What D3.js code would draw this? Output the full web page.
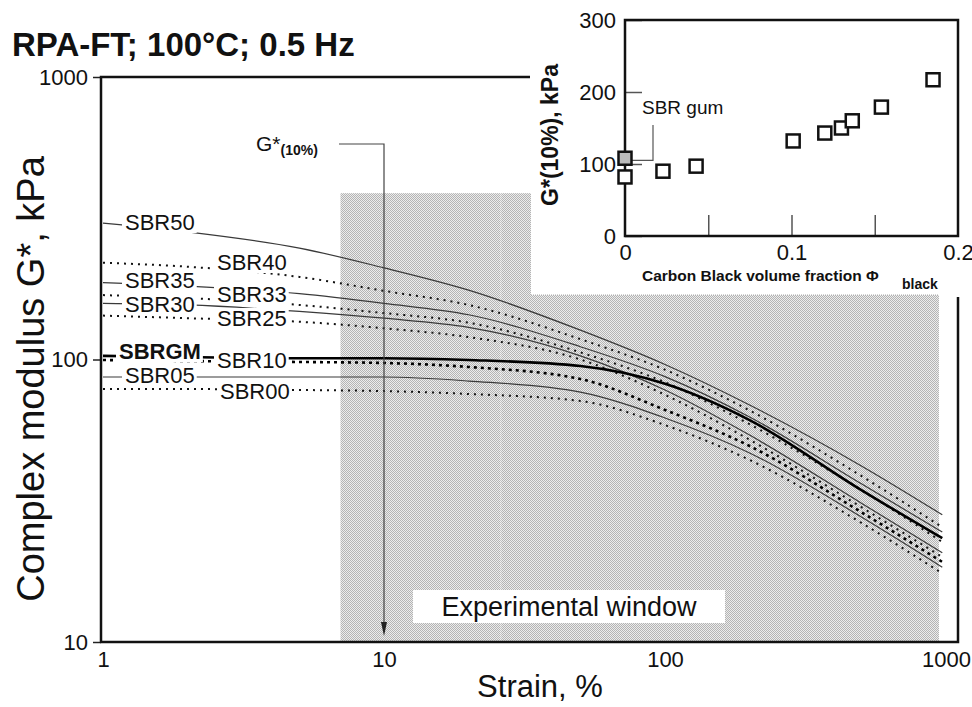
<!DOCTYPE html>
<html>
<head>
<meta charset="utf-8">
<script src="https://cdn.jsdelivr.net/npm/d3@7"></script>
<style>
  body { margin: 0; background: #fff; }
  text { font-family: "Liberation Sans", Arial, sans-serif; fill: #111; }
</style>
</head>
<body>
<svg id="chart" width="972" height="707"></svg>
<script>
// strain sweep, % (x values shared by every curve)
var strain = [1, 2, 5, 10, 20, 50, 100, 200, 500, 970];

// complex modulus G*, kPa
var SBR50 = [304, 283, 248, 211, 176, 127, 96, 69, 42, 28.2];
var SBR40 = [220, 213, 196, 175, 156, 118, 92, 66, 38.7, 25.5];
var SBR35 = [187, 182, 171, 158, 144, 111, 87, 62.6, 36.3, 24.5];
var SBR33 = [169, 165, 156, 146, 135, 106, 83, 59, 34.5, 22.6];
var SBR30 = [158, 156, 148, 140, 130, 103, 78, 54, 31, 20.7];
var SBR25 = [143, 140, 136, 129, 120, 100, 75, 52, 30, 20];
var SBRGM = [103, 102, 101, 101, 99.6, 94.8, 82, 61, 34.5, 23.3];
var SBR10 = [99.6, 98.8, 98, 97.2, 94.1, 85.3, 66.3, 49.4, 28.8, 19.2];
var SBR05 = [86.7, 86.7, 86.7, 86.7, 83.9, 76.7, 62.1, 46.7, 27.7, 18.4];
var SBR00 = [78.6, 78.6, 78, 77.3, 75.5, 71.3, 58.6, 44.1, 26.4, 17.5];

var seriesNames = ["SBR50", "SBR40", "SBR35", "SBR33", "SBR30", "SBR25", "SBRGM", "SBR10", "SBR05", "SBR00"];
var seriesValues = [SBR50, SBR40, SBR35, SBR33, SBR30, SBR25, SBRGM, SBR10, SBR05, SBR00];

// inset: G*(10%) vs carbon black volume fraction
var insetNames = ["SBR00", "SBRGM", "SBR05", "SBR10", "SBR25", "SBR30", "SBR33", "SBR35", "SBR40", "SBR50"];
var phiBlack = [0, 0, 0.0228, 0.0427, 0.101, 0.120, 0.130, 0.1365, 0.154, 0.185];
var gStar10 = [82, 108, 90, 97, 132, 143, 150, 160, 179, 217];

var xTicks = [1, 10, 100, 1000];
var yTicks = [10, 100, 1000];
var insetXTicks = [0, 0.1, 0.2];
var insetYTicks = [0, 100, 200, 300];

// experimental window (strain range, top G*)
var windowStrain = [7, 944];
var windowTop = 388;

// ---- styles / layout ----
var lineStyle = {
  solid:  { stroke: "#3a3a3a", width: 1.2, dash: null },
  dotted: { stroke: "#111", width: 2, dash: "2,5" },
  bold:   { stroke: "#000", width: 2.6, dash: null },
  bolddot:{ stroke: "#000", width: 2.6, dash: "3,4" }
};
var seriesStyle = {
  SBR50: "solid", SBR40: "dotted", SBR35: "solid", SBR33: "dotted", SBR30: "solid",
  SBR25: "dotted", SBRGM: "bold", SBR10: "bolddot", SBR05: "solid", SBR00: "dotted"
};
var labelPos = {
  SBR50: [125, 222], SBR35: [125, 280], SBR30: [125, 304], SBRGM: [119, 351], SBR05: [125, 375],
  SBR40: [217, 262], SBR33: [217, 294], SBR25: [217, 318], SBR10: [217, 360], SBR00: [220, 391]
};

var svg = d3.select("#chart");

var x = d3.scaleLog().domain([1, 1000]).range([103, 946]);
var y = d3.scaleLog().domain([10, 1000]).range([642, 77]);

// stipple pattern for the window
var defs = svg.append("defs");
var pat = defs.append("pattern").attr("id", "stip")
    .attr("width", 2).attr("height", 2).attr("patternUnits", "userSpaceOnUse");
pat.append("rect").attr("width", 2).attr("height", 2).attr("fill", "#ececec");
pat.append("rect").attr("width", 1).attr("height", 1).attr("fill", "#b4b4b4");
pat.append("rect").attr("x", 1).attr("y", 1).attr("width", 1).attr("height", 1).attr("fill", "#b4b4b4");

svg.append("rect")
    .attr("x", x(windowStrain[0]))
    .attr("y", y(windowTop))
    .attr("width", x(windowStrain[1]) - x(windowStrain[0]))
    .attr("height", y(10) - y(windowTop))
    .attr("fill", "url(#stip)");

// faint light dotted line inside the window
svg.append("line")
    .attr("x1", x(26)).attr("x2", x(26))
    .attr("y1", y(windowTop)).attr("y2", y(10))
    .attr("stroke", "#f4f4f4").attr("stroke-width", 1.2).attr("stroke-dasharray", "1,1");

// curves
var line = d3.line()
    .x(function(d) { return x(d[0]); })
    .y(function(d) { return y(d[1]); })
    .curve(d3.curveMonotoneX);

var curves = svg.append("g");
seriesNames.forEach(function(name, i) {
  var st = lineStyle[seriesStyle[name]];
  var pts = strain.map(function(s, j) { return [s, seriesValues[i][j]]; });
  curves.append("path")
      .attr("d", line(pts))
      .attr("fill", "none")
      .attr("stroke", st.stroke)
      .attr("stroke-width", st.width)
      .attr("stroke-dasharray", st.dash);
});

// G*(10%) arrow
svg.append("path")
    .attr("d", "M339,144H" + x(10) + "V628")
    .attr("fill", "none").attr("stroke", "#444").attr("stroke-width", 1.2);
svg.append("path")
    .attr("d", "M" + (x(10) - 3) + ",622L" + (x(10) + 3) + ",622L" + x(10) + ",636Z")
    .attr("fill", "#222");
var gl = svg.append("text").attr("x", 256).attr("y", 151).style("font-size", "21px");
gl.append("tspan").text("G*");
gl.append("tspan").attr("dy", 4).style("font-size", "14px").style("font-weight", "bold").text("(10%)");

// series labels with white backing
var labels = svg.append("g");
seriesNames.forEach(function(name) {
  var p = labelPos[name];
  var t = labels.append("text")
      .attr("x", p[0]).attr("y", p[1]).attr("dy", "0.36em")
      .style("font-size", "22px")
      .style("font-weight", name === "SBRGM" ? "bold" : "normal")
      .text(name);
  var b = t.node().getBBox();
  labels.insert("rect", function() { return t.node(); })
      .attr("x", b.x - 3).attr("y", p[1] - 10)
      .attr("width", b.width + 5).attr("height", 21)
      .attr("fill", "#fff");
});

// "Experimental window" box
svg.append("rect").attr("x", 413).attr("y", 590).attr("width", 312).attr("height", 33).attr("fill", "#fff");
svg.append("text").attr("x", 569).attr("y", 616).attr("text-anchor", "middle")
    .style("font-size", "27px").text("Experimental window");

// axes
var yAxis = d3.axisLeft(y).tickValues(yTicks).tickFormat(d3.format("d"))
    .tickSize(8).tickSizeOuter(0).tickPadding(5);
var gy = svg.append("g").attr("transform", "translate(101,0)").call(yAxis);
gy.select(".domain").remove();
gy.selectAll("text").style("font-size", "22px").attr("fill", "#111");
gy.selectAll("line").attr("stroke", "#222").attr("stroke-width", 1.5);

var xAxis = d3.axisBottom(x).tickValues(xTicks).tickFormat(d3.format("d"))
    .tickSize(0).tickPadding(9);
var gx = svg.append("g").attr("transform", "translate(0,642)").call(xAxis);
gx.select(".domain").remove();
gx.selectAll("text").style("font-size", "22px").attr("fill", "#111");

// frame
var frame = svg.append("g").attr("stroke", "#111").attr("fill", "none");
frame.append("path").attr("d", "M530,77H101V643").attr("stroke-width", 2.5);
frame.append("path").attr("d", "M100,642H958V297").attr("stroke-width", 2.5);

// axis titles
svg.append("text").attr("x", 12).attr("y", 56)
    .style("font-size", "33px").style("font-weight", "bold")
    .text("RPA-FT; 100°C; 0.5 Hz");
svg.append("text").attr("transform", "translate(44,379) rotate(-90)")
    .attr("text-anchor", "middle").style("font-size", "38px")
    .text("Complex modulus G*, kPa");
svg.append("text").attr("x", 540).attr("y", 697).attr("text-anchor", "middle")
    .style("font-size", "31px").text("Strain, %");

// ---- inset ----
svg.append("rect").attr("x", 531).attr("y", 0).attr("width", 441).attr("height", 295).attr("fill", "#fff");
svg.append("line").attr("x1", 531).attr("x2", x(windowStrain[1])).attr("y1", 295).attr("y2", 295)
    .attr("stroke", "#aaa").attr("stroke-dasharray", "1,1");

var ix = d3.scaleLinear().domain([0, 0.2]).range([625, 958]);
var iy = d3.scaleLinear().domain([0, 300]).range([236, 20]);
var inset = svg.append("g");

var iyAxis = d3.axisLeft(iy).tickValues(insetYTicks).tickFormat(d3.format("d"))
    .tickSize(-17).tickSizeOuter(0).tickPadding(9);
var giy = inset.append("g").attr("transform", "translate(625,0)").call(iyAxis);
giy.select(".domain").remove();
giy.selectAll("text").style("font-size", "22px").attr("fill", "#111");
giy.selectAll("line").attr("stroke", "#555").attr("stroke-width", 1.5);

var ixTickAxis = d3.axisBottom(ix).tickValues([0.05, 0.1, 0.15]).tickFormat("").tickSize(-21).tickSizeOuter(0);
var gixt = inset.append("g").attr("transform", "translate(0,236)").call(ixTickAxis);
gixt.select(".domain").remove();
gixt.selectAll("line").attr("stroke", "#555").attr("stroke-width", 1.5);

var ixAxis = d3.axisBottom(ix).tickValues(insetXTicks)
    .tickFormat(function(d) { return d === 0 ? "0" : d3.format(".1f")(d); })
    .tickSize(0).tickPadding(8);
var gix = inset.append("g").attr("transform", "translate(0,236)").call(ixAxis);
gix.select(".domain").remove();
gix.selectAll("text").style("font-size", "22px").attr("fill", "#111");

inset.append("rect").attr("x", 625).attr("y", 20).attr("width", 333).attr("height", 216)
    .attr("fill", "none").attr("stroke", "#111").attr("stroke-width", 2.5);

// SBR gum leader
inset.append("path").attr("d", "M632," + iy(105) + "H653V125")
    .attr("fill", "none").attr("stroke", "#555").attr("stroke-width", 1.2);
inset.append("text").attr("x", 642).attr("y", 114).style("font-size", "19px").text("SBR gum");

inset.selectAll(".pt").data(phiBlack).enter().append("rect")
    .attr("class", "pt")
    .attr("x", function(d) { return ix(d) - 6.5; })
    .attr("y", function(d, i) { return iy(gStar10[i]) - 6.5; })
    .attr("width", 13).attr("height", 13)
    .attr("fill", function(d, i) { return insetNames[i] === "SBRGM" ? "#bbb" : "#fff"; })
    .attr("stroke", "#111").attr("stroke-width", 2.5);

inset.append("text").attr("transform", "translate(558,135) rotate(-90)")
    .attr("text-anchor", "middle").style("font-size", "23px").style("font-weight", "bold")
    .text("G*(10%), kPa");
inset.append("text").attr("x", 642).attr("y", 281)
    .style("font-size", "15.5px").style("font-weight", "bold")
    .text("Carbon Black volume fraction Φ");
inset.append("text").attr("x", 902).attr("y", 289)
    .style("font-size", "14px").style("font-weight", "bold")
    .text("black");
</script>
</body>
</html>
